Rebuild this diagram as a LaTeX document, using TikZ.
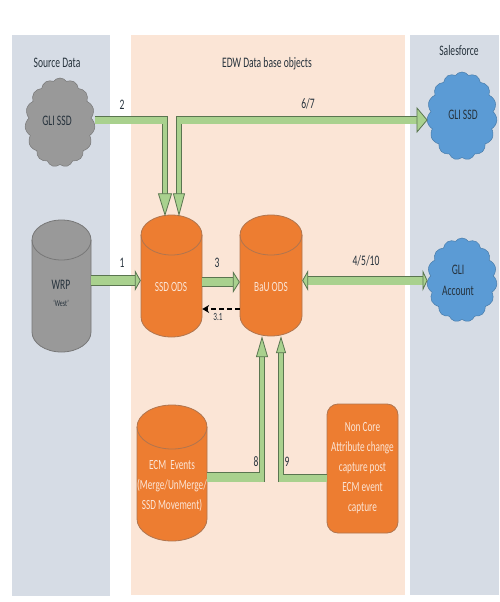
\documentclass[tikz,border=0pt]{standalone}
\usepackage{fontspec}
\setmainfont[FakeStretch=0.66]{Carlito}
\usetikzlibrary{arrows.meta,shapes.symbols}
\definecolor{panelblue}{HTML}{D6DCE5}
\definecolor{panelpeach}{HTML}{FBE5D6}
\definecolor{orangefill}{HTML}{ED7D31}
\definecolor{orangeline}{HTML}{B0754F}
\definecolor{bluefill}{HTML}{5B9BD5}
\definecolor{greyfill}{HTML}{999999}
\definecolor{greyline}{HTML}{777777}
\definecolor{barfill}{HTML}{A9D18E}
\definecolor{barline}{HTML}{5A7550}
\definecolor{lighttext}{HTML}{FBE5D6}
\definecolor{darktext}{HTML}{26323C}
\newcommand{\dbshape}[8]{% name, cx, top, bottom, rx, ry, fill, line
  \filldraw[fill=#7,draw=#8,line width=0.8pt]
    (#2-#5,#4-#6) arc[start angle=180,end angle=360,x radius=#5pt,y radius=#6pt]
    -- (#2+#5,#3+#6) arc[start angle=0,end angle=180,x radius=#5pt,y radius=#6pt] -- cycle;
  \draw[draw=#8,line width=0.8pt]
    (#2-#5,#3+#6) arc[start angle=180,end angle=360,x radius=#5pt,y radius=#6pt];
  \node[inner sep=0pt,minimum width=2*#5 pt,minimum height=#4pt-#3pt] (#1) at (#2,{(#3+#4)/2}) {};
}
\tikzset{
  x=1pt,y=-1pt,
  panel/.style={fill=#1,draw=none},
  cloudbox/.style={cloud,cloud puffs=15,cloud puff arc=110,aspect=0.9,inner sep=0pt,draw=#1,line width=0.5pt},
  lbl/.style={font=\fontsize{14.5}{17}\selectfont,text=darktext,inner sep=0pt,align=center},
  wlbl/.style={font=\fontsize{14}{20}\selectfont,text=lighttext,inner sep=0pt,align=center},
  hbar/.style={draw=barline,line width=0.8pt,double=barfill,double distance=#1},
  hbar/.default=7pt,
  joinpatch/.style={draw=barfill,line width=#1},
}
\begin{document}
\begin{tikzpicture}
\useasboundingbox (0,0) rectangle (499,602);
\fill[white] (0,0) rectangle (499,602);
\fill[panel=panelblue] (12,35) rectangle (110,596);
\fill[panel=panelpeach] (131,35) rectangle (405,595);
\fill[panel=panelblue] (410,35) rectangle (499,595);

\node[lbl] (tsource) at (57,63) {Source Data};
\node[lbl] (tedw) at (267,64) {EDW Data base objects};
\node[lbl] (tsales) at (459,51) {Salesforce};

% data stores
\dbshape{wrp}{61.5}{220}{352}{29.5}{20}{greyfill}{greyline}
\dbshape{ssd}{171.5}{215}{337}{30.5}{20}{orangefill}{orangeline}
\dbshape{bau}{271}{215}{336}{31}{20}{orangefill}{orangeline}
\dbshape{ecm}{172}{405}{541}{35}{22}{orangefill}{orangeline}
\node[draw=orangeline,line width=0.8pt,fill=orangefill,rounded corners=11pt,minimum width=71pt,minimum height=129pt,inner sep=0pt] (noncore) at (362.5,468.5) {};

% clouds
\node[cloudbox=greyline,fill=greyfill,minimum width=70pt,minimum height=89pt] (gcloud) at (60,122.5) {};
\node[cloudbox=bluefill!80!black,fill=bluefill,minimum width=70pt,minimum height=88pt] (scloud) at (462,116) {};
\node[cloudbox=bluefill!80!black,fill=bluefill,minimum width=70pt,minimum height=84pt] (acloud) at (462,280) {};

% labels
\node[lbl] (lgcloud) at (57,121) {GLI SSD};
\node[lbl] (lscloud) at (463,115) {GLI SSD};
\node[lbl] (lacloud) at (458,280) {GLI\\[4pt]Account};
\node[lbl] (lwrp) at (61,285) {WRP};
\node[lbl,font=\fontsize{9}{10}\selectfont] (lwest) at (61,303) {`West'};
\node[wlbl] (lssd) at (171,287) {SSD ODS};
\node[wlbl] (lbau) at (271,287) {BaU ODS};
\node[wlbl] (lecm) at (172,486) {ECM\ \ Events\\(Merge/UnMerge/\\SSD Movement)};
\node[wlbl] (lnon) at (362.5,468) {Non Core\\Attribute change\\capture post\\ECM event\\capture};

% connector reference points
\coordinate (c2) at (165,120);
\coordinate (c67) at (179,120);
\coordinate (c8) at (262,477);
\coordinate (c9) at (281,478);
\coordinate (r1) at (0,280.5);
\coordinate (r3) at (0,282);
\coordinate (r31) at (0,309);

% arrow 1, 3, 4/5/10
\draw[hbar=9pt,-{Triangle[length=6pt,width=21pt,fill=barfill]}] (wrp.east |- r1) -- (ssd.west |- r1);
\draw[hbar=8pt,-{Triangle[length=7pt,width=22pt,fill=barfill]}] (ssd.east |- r3) -- (bau.west |- r3);
\draw[hbar=8pt,{Triangle[length=6pt,width=21pt,fill=barfill]}-{Triangle[length=5pt,width=21pt,fill=barfill]}] (bau.east |- r1) -- (acloud.west |- r1);
% dashed 3.1
\draw[black,line width=1.4pt,dash pattern=on 5pt off 3pt,-{Stealth[length=7pt,width=8pt]}] (bau.west |- r31) -- (ssd.east |- r31);

% arrow 2
\draw[hbar=3.5pt,-{Triangle[length=23pt,width=14pt,fill=barfill]}] ([yshift=4pt]c2) -- ([yshift=-1.5pt]c2 |- ssd.north);
\draw[hbar=7pt] ([xshift=1pt]gcloud.east |- c2) -- ([xshift=1.75pt]c2);
\draw[joinpatch=3.5pt] (c2) -- ([yshift=-8pt]c2);
% arrow 6/7
\draw[hbar=3.5pt,-{Triangle[length=23pt,width=12pt,fill=barfill]}] ([yshift=4pt]c67) -- ([yshift=-1.5pt]c67 |- ssd.north);
\draw[hbar=7pt,-{Triangle[length=11pt,width=26pt,fill=barfill]}] ([xshift=-1.75pt]c67) -- (scloud.west |- c67);
\draw[joinpatch=3.5pt] (c67) -- ([yshift=-8pt]c67);
% arrow 8
\draw[hbar=4.5pt,-{Triangle[length=21pt,width=12pt,fill=barfill]}] ([yshift=-5pt]c8) -- (c8 |- bau.south);
\draw[hbar=9pt] (ecm.east |- c8) -- ([xshift=2.25pt]c8);
\draw[joinpatch=4.5pt] (c8) -- ([yshift=9pt]c8);
% arrow 9
\draw[hbar=3.5pt,-{Triangle[length=17pt,width=10pt,fill=barfill]}] ([yshift=-4pt]c9) -- (c9 |- bau.south);
\draw[hbar=7pt] (noncore.west |- c9) -- ([xshift=-1.75pt]c9);
\draw[joinpatch=3.5pt] (c9) -- ([yshift=8pt]c9);

% flow numbers
\node[lbl] (n2) at (122,105) {2};
\node[lbl] (n67) at (308,104) {6/7};
\node[lbl] (n1) at (122,263) {1};
\node[lbl] (n3) at (217,263) {3};
\node[lbl,font=\fontsize{11}{13}\selectfont] (n31) at (218,317) {3.1};
\node[lbl] (n4) at (366,261) {4/5/10};
\node[lbl] (n8) at (256,462) {8};
\node[lbl] (n9) at (287,462) {9};
\end{tikzpicture}
\end{document}
